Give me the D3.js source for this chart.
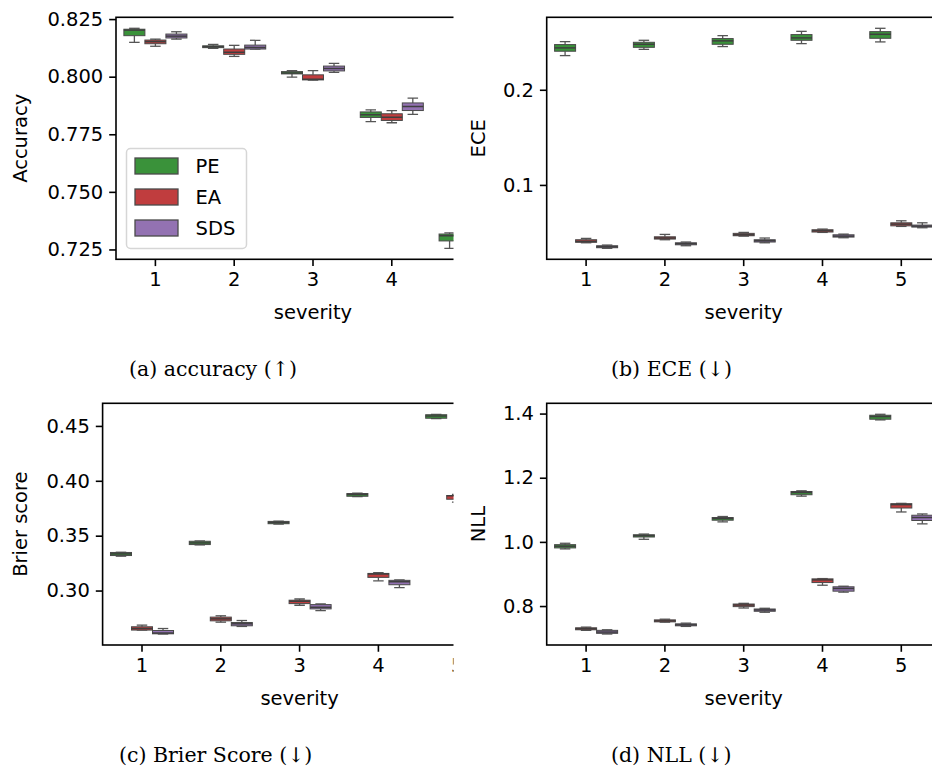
<!DOCTYPE html>
<html lang="en">
<head>
<meta charset="UTF-8">
<title>Corruption severity</title>
<script src="https://cdn.jsdelivr.net/npm/d3@7"></script>
<style>
  body { margin: 0; background: #fff; }
  text { font-family: "DejaVu Sans", sans-serif; fill: #000; }
  .caption { font-family: "DejaVu Serif", serif; }
</style>
</head>
<body>
<div id="fig"></div>
<script>
// categories
var severities = [1, 2, 3, 4, 5];
var methods = ["PE", "EA", "SDS"];
var colors = ["#3a923a", "#c03d3e", "#9372b2"];

// each row: [whislo, q1, median, q3, whishi] for severity 1..5
var accPE = [[0.8149,0.8178,0.8202,0.8206,0.8210],[0.8123,0.8126,0.8130,0.8134,0.8140],[0.7998,0.8012,0.8016,0.8022,0.8026],[0.7805,0.7823,0.7835,0.7847,0.7856],[0.7255,0.7287,0.7310,0.7317,0.7322]];
var accEA = [[0.8132,0.8143,0.8152,0.8159,0.8163],[0.8088,0.8097,0.8106,0.8120,0.8136],[0.7985,0.7986,0.7989,0.8008,0.8026],[0.7800,0.7810,0.7824,0.7839,0.7853],[0.7262,0.7275,0.7285,0.7295,0.7305]];
var accSDS = [[0.8163,0.8168,0.8176,0.8185,0.8195],[0.8120,0.8120,0.8127,0.8137,0.8158],[0.8019,0.8025,0.8035,0.8046,0.8058],[0.7836,0.7853,0.7870,0.7886,0.7907],[0.7320,0.7335,0.7345,0.7355,0.7370]];

var ecePE = [[0.2359,0.2405,0.2440,0.2475,0.2506],[0.2425,0.2446,0.2478,0.2499,0.2520],[0.2454,0.2478,0.2514,0.2538,0.2569],[0.2485,0.2520,0.2545,0.2580,0.2614],[0.2503,0.2541,0.2583,0.2611,0.2646]];
var eceEA = [[0.0392,0.0397,0.0407,0.0424,0.0438],[0.0424,0.0431,0.0442,0.0455,0.0480],[0.0462,0.0466,0.0476,0.0491,0.0501],[0.0501,0.0505,0.0518,0.0529,0.0536],[0.0564,0.0570,0.0588,0.0602,0.0623]];
var eceSDS = [[0.0334,0.0340,0.0350,0.0361,0.0368],[0.0361,0.0371,0.0382,0.0392,0.0400],[0.0392,0.0400,0.0413,0.0424,0.0442],[0.0445,0.0452,0.0462,0.0476,0.0483],[0.0550,0.0557,0.0567,0.0578,0.0602]];

var brierPE = [[0.3313,0.3319,0.3334,0.3347,0.3349],[0.3416,0.3419,0.3434,0.3449,0.3452],[0.3606,0.3609,0.3621,0.3630,0.3633],[0.3855,0.3859,0.3875,0.3884,0.3887],[0.4566,0.4570,0.4591,0.4602,0.4606]];
var brierEA = [[0.2640,0.2640,0.2654,0.2670,0.2685],[0.2712,0.2724,0.2742,0.2758,0.2770],[0.2866,0.2881,0.2903,0.2912,0.2923],[0.3089,0.3120,0.3150,0.3156,0.3162],[0.3805,0.3832,0.3863,0.3866,0.3875]];
var brierSDS = [[0.2604,0.2606,0.2613,0.2636,0.2654],[0.2673,0.2679,0.2697,0.2709,0.2727],[0.2818,0.2833,0.2848,0.2872,0.2878],[0.3026,0.3053,0.3080,0.3093,0.3096],[0.3720,0.3740,0.3760,0.3780,0.3800]];

var nllPE = [[0.9781,0.9812,0.9865,0.9914,0.9957],[1.0081,1.0152,1.0192,1.0223,1.0244],[1.0624,1.0676,1.0729,1.0760,1.0791],[1.1426,1.1470,1.1540,1.1571,1.1593],[1.3803,1.3824,1.3907,1.3948,1.3978]];
var nllEA = [[0.7242,0.7260,0.7291,0.7322,0.7343],[0.7498,0.7507,0.7538,0.7569,0.7590],[0.7939,0.7982,0.8032,0.8063,0.8084],[0.8649,0.8732,0.8816,0.8847,0.8856],[1.0933,1.1056,1.1161,1.1192,1.1201]];
var nllSDS = [[0.7128,0.7149,0.7189,0.7242,0.7260],[0.7365,0.7384,0.7414,0.7445,0.7467],[0.7806,0.7837,0.7877,0.7908,0.7930],[0.8433,0.8464,0.8547,0.8600,0.8618],[1.0562,1.0667,1.0760,1.0831,1.0871]];

// tick labels
var accTicks = [0.725, 0.750, 0.775, 0.800, 0.825];
var eceTicks = [0.1, 0.2];
var brierTicks = [0.30, 0.35, 0.40, 0.45];
var nllTicks = [0.8, 1.0, 1.2, 1.4];

var W = 932, H = 768;
var unit = 78.8;   // width of one severity slot
var fs = 19.5;     // font size of ticks / labels

var svg = d3.select("#fig").append("svg")
  .attr("width", W)
  .attr("height", H);

// panel layout; clipR is where the subfigure is cut off
var panels = [
  { id: "a", left: 116, top: 17.3, bottom: 259.3, clipR: 453.5, data: [accPE, accEA, accSDS], ticks: accTicks, fmt: ".3f", ylabel: "Accuracy", ylx: 20, caption: "(a) accuracy (\u2191)", capX: 129, capY: 376, legend: true },
  { id: "b", left: 546.7, top: 17.3, bottom: 259.3, clipR: 932, data: [ecePE, eceEA, eceSDS], ticks: eceTicks, fmt: ".1f", ylabel: "ECE", ylx: 478, caption: "(b) ECE (\u2193)", capX: 611, capY: 376 },
  { id: "c", left: 102.6, top: 403.3, bottom: 645, clipR: 453.5, data: [brierPE, brierEA, brierSDS], ticks: brierTicks, fmt: ".2f", ylabel: "Brier score", ylx: 20, caption: "(c) Brier Score (\u2193)", capX: 119, capY: 762 },
  { id: "d", left: 546.7, top: 403.3, bottom: 645, clipR: 932, data: [nllPE, nllEA, nllSDS], ticks: nllTicks, fmt: ".1f", ylabel: "NLL", ylx: 478, caption: "(d) NLL (\u2193)", capX: 611, capY: 762 }
];

panels.forEach(function(p) {
  var right = p.left + severities.length * unit;

  // y range from data with matplotlib-like 5% margins
  var all = d3.merge(p.data.map(function(s) { return d3.merge(s); }));
  var lo = d3.min(all), hi = d3.max(all), pad = (hi - lo) * 0.05;

  var y = d3.scaleLinear()
    .domain([lo - pad, hi + pad])
    .range([p.bottom, p.top]);

  var x0 = d3.scaleBand()
    .domain(severities)
    .range([p.left, right]);

  var x1 = d3.scaleBand()
    .domain(methods)
    .range([0.1 * x0.bandwidth(), 0.9 * x0.bandwidth()]);

  svg.append("clipPath")
    .attr("id", "clip-" + p.id)
    .append("rect")
    .attr("x", 0)
    .attr("y", 0)
    .attr("width", p.clipR)
    .attr("height", H);

  var g = svg.append("g")
    .attr("clip-path", "url(#clip-" + p.id + ")");

  // boxes
  methods.forEach(function(m, mi) {
    var bw = x1.bandwidth();
    var boxes = g.selectAll("g.box-" + m)
      .data(p.data[mi])
      .enter()
      .append("g")
      .attr("class", "box-" + m)
      .attr("transform", function(d, i) { return "translate(" + (x0(severities[i]) + x1(m)) + ",0)"; });

    // whiskers
    boxes.append("line")
      .attr("x1", bw / 2).attr("x2", bw / 2)
      .attr("y1", function(d) { return y(d[0]); })
      .attr("y2", function(d) { return y(d[1]); })
      .attr("stroke", "#555").attr("stroke-width", 1.3);
    boxes.append("line")
      .attr("x1", bw / 2).attr("x2", bw / 2)
      .attr("y1", function(d) { return y(d[3]); })
      .attr("y2", function(d) { return y(d[4]); })
      .attr("stroke", "#555").attr("stroke-width", 1.3);
    // caps
    [0, 4].forEach(function(k) {
      boxes.append("line")
        .attr("x1", bw / 4).attr("x2", bw * 3 / 4)
        .attr("y1", function(d) { return y(d[k]); })
        .attr("y2", function(d) { return y(d[k]); })
        .attr("stroke", "#555").attr("stroke-width", 1.3);
    });

    boxes.append("rect")
      .attr("x", 0)
      .attr("width", bw)
      .attr("y", function(d) { return y(d[3]); })
      .attr("height", function(d) { return Math.max(0.5, y(d[1]) - y(d[3])); })
      .attr("fill", colors[mi])
      .attr("stroke", "#4a4a4a")
      .attr("stroke-width", 1);

    boxes.append("line")
      .attr("x1", 0).attr("x2", bw)
      .attr("y1", function(d) { return y(d[2]); })
      .attr("y2", function(d) { return y(d[2]); })
      .attr("stroke", "#3f3f3f").attr("stroke-width", 1.5);
  });

  // axes
  var yAxis = g.append("g")
    .attr("transform", "translate(" + p.left + ",0)")
    .call(d3.axisLeft(y).tickValues(p.ticks).tickFormat(d3.format(p.fmt)).tickSize(6.8).tickPadding(6));
  var xAxis = g.append("g")
    .attr("transform", "translate(0," + p.bottom + ")")
    .call(d3.axisBottom(x0).tickSize(6.8).tickPadding(6));

  [yAxis, xAxis].forEach(function(ax) {
    ax.select(".domain").remove();
    ax.selectAll("line").attr("stroke", "#000").attr("stroke-width", 1.6);
    ax.selectAll("text")
      .attr("fill", "#000")
      .style("font-family", "DejaVu Sans")
      .style("font-size", fs + "px");
  });

  // spines
  g.append("rect")
    .attr("x", p.left)
    .attr("y", p.top)
    .attr("width", right - p.left)
    .attr("height", p.bottom - p.top)
    .attr("fill", "none")
    .attr("stroke", "#000")
    .attr("stroke-width", 1.6);

  // axis labels
  g.append("text")
    .attr("x", (p.left + right) / 2)
    .attr("y", p.bottom + 60)
    .attr("text-anchor", "middle")
    .style("font-size", fs + "px")
    .text("severity");

  svg.append("text")
    .attr("transform", "translate(" + (p.ylx + 7) + "," + ((p.top + p.bottom) / 2) + ") rotate(-90)")
    .attr("text-anchor", "middle")
    .style("font-size", fs + "px")
    .text(p.ylabel);

  // subfigure caption
  svg.append("text")
    .attr("class", "caption")
    .attr("x", p.capX)
    .attr("y", p.capY)
    .style("font-size", "20.5px")
    .text(p.caption);

  if (p.legend) {
    var lg = g.append("g").attr("transform", "translate(126.5,148.5)");
    lg.append("rect")
      .attr("width", 120)
      .attr("height", 100)
      .attr("rx", 4)
      .attr("fill", "#fff")
      .attr("fill-opacity", 0.8)
      .attr("stroke", "#d6d6d6")
      .attr("stroke-width", 1.5);
    methods.forEach(function(m, i) {
      lg.append("rect")
        .attr("x", 8.5)
        .attr("y", 9.5 + i * 31)
        .attr("width", 43)
        .attr("height", 16)
        .attr("fill", colors[i])
        .attr("stroke", "#4a4a4a")
        .attr("stroke-width", 1.3);
      lg.append("text")
        .attr("x", 69)
        .attr("y", 24.5 + i * 31)
        .style("font-size", fs + "px")
        .text(m);
    });
  }
});
</script>
</body>
</html>
